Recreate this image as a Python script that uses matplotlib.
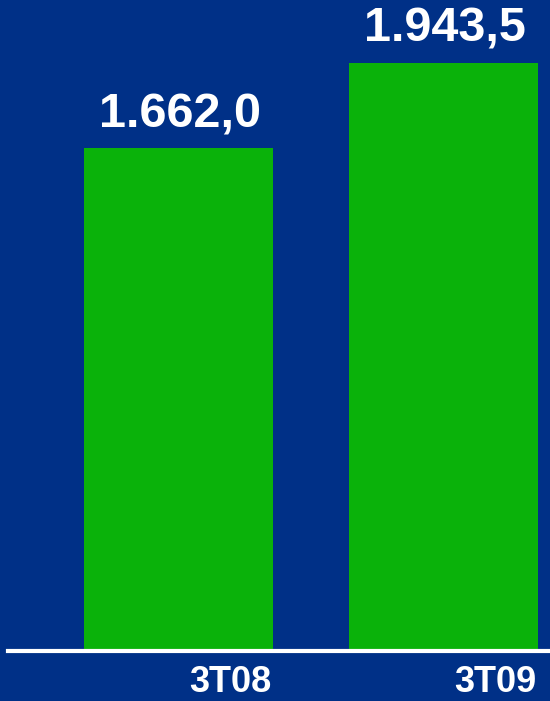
import matplotlib
matplotlib.use('Agg')
import matplotlib.pyplot as plt

# quarters and values
periods = ['3T08', '3T09']
values = [1662.0, 1943.5]
labels = ['1.662,0', '1.943,5']

bg = '#003087'
green = '#0AB20A'

plt.rcParams['font.family'] = ['Liberation Sans', 'DejaVu Sans']

fig = plt.figure(figsize=(5.5, 7.01), dpi=100, facecolor=bg)
ax = fig.add_axes([8 / 550, 1 - 651 / 701, 1 - 8 / 550, (651 - 46) / 701])
ax.set_facecolor(bg)

xs = list(range(len(periods)))
ax.bar(xs, values, width=0.713, color=green, zorder=2)

for x, v, lab in zip(xs, values, labels):
    ax.annotate(lab, (x, v), xytext=(1, 8), textcoords='offset points',
                ha='center', va='bottom', color='white', fontsize=35,
                fontweight='bold')

ax.set_xlim(-0.643, 1.402)
ax.set_ylim(0, 2000)

ax.set_xticks([x + 0.195 for x in xs])
ax.set_xticklabels(periods, fontsize=26, fontweight='bold', color='white')
ax.tick_params(axis='x', length=0, pad=10)
ax.set_yticks([])

for s in ['top', 'right', 'left']:
    ax.spines[s].set_visible(False)
ax.spines['bottom'].set_color('white')
ax.spines['bottom'].set_linewidth(3)
ax.spines['bottom'].set_zorder(3)

fig.savefig('out.png', dpi=100, facecolor=bg)
